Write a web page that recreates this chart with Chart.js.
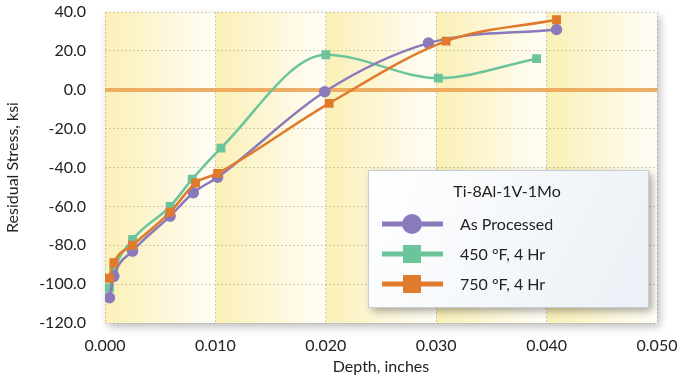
<!DOCTYPE html>
<html>
<head>
<meta charset="utf-8">
<script src="https://cdn.jsdelivr.net/npm/chart.js@4"></script>
<style>
  html, body { margin: 0; padding: 0; background: #fff; }
  #wrap { width: 694px; height: 383px; position: relative; }
</style>
</head>
<body>
<div id="wrap"><canvas id="stressChart"></canvas></div>
<script>
// Ti-8Al-1V-1Mo residual stress vs depth
const seriesLabels = ['As Processed', '450 °F, 4 Hr', '750 °F, 4 Hr'];
const legendTitle = 'Ti-8Al-1V-1Mo';

const asProcessedDepth = [0.0004, 0.0008, 0.0025, 0.0059, 0.0080, 0.0102, 0.0199, 0.0293, 0.0409];
const asProcessedStress = [-107, -96, -83, -65, -53, -45, -1, 24, 31];

const hr450Depth = [0.0004, 0.0008, 0.0025, 0.0059, 0.0079, 0.0105, 0.0200, 0.0302, 0.0391];
const hr450Stress = [-102, -93, -77, -60, -46, -30, 18, 6, 16];

const hr750Depth = [0.0004, 0.0008, 0.0025, 0.0059, 0.0082, 0.0102, 0.0203, 0.0309, 0.0409];
const hr750Stress = [-97, -89, -80, -63, -48, -43, -7, 25, 36];

const xTicks = [0, 0.01, 0.02, 0.03, 0.04, 0.05];
const yTicks = [-120, -100, -80, -60, -40, -20, 0, 20, 40];

const colors = ['#8a79bb', '#6cc49a', '#e07a2c'];
const markers = ['circle', 'rect', 'rect'];

function toPoints(xs, ys) {
    return xs.map(function(x, i) { return { x: x, y: ys[i] }; });
}

const FONT = 'Lato, "Noto Sans", sans-serif';

// column background bands + shadow
const bandPlugin = {
    id: 'bands',
    beforeDraw: function(chart) {
        const c = chart.ctx, a = chart.chartArea, xs = chart.scales.x;
        c.save();
        c.shadowColor = 'rgba(0,0,0,0.25)';
        c.shadowBlur = 8;
        c.shadowOffsetX = 3;
        c.shadowOffsetY = 4;
        c.fillStyle = '#fdf8dc';
        c.fillRect(a.left, a.top, a.right - a.left, a.bottom - a.top);
        c.restore();
        c.save();
        for (let i = 0; i < xTicks.length - 1; i++) {
            const x0 = xs.getPixelForValue(xTicks[i]);
            const x1 = xs.getPixelForValue(xTicks[i + 1]);
            const g = c.createLinearGradient(x0, 0, x1, 0);
            g.addColorStop(0, '#faf0b6');
            g.addColorStop(0.55, '#fdf7da');
            g.addColorStop(1, '#fffef7');
            c.fillStyle = g;
            c.fillRect(x0, a.top, x1 - x0, a.bottom - a.top);
        }
        c.restore();
    }
};

// legend box drawn inside the plot
const legendBoxPlugin = {
    id: 'legendBox',
    afterDraw: function(chart) {
        const c = chart.ctx;
        const bx = 368, by = 170, bw = 280, bh = 137;
        c.save();
        c.shadowColor = 'rgba(0,0,0,0.35)';
        c.shadowBlur = 8;
        c.shadowOffsetX = 4;
        c.shadowOffsetY = 4;
        const g = c.createLinearGradient(bx, by, bx + bw, by + bh);
        g.addColorStop(0, '#ffffff');
        g.addColorStop(1, '#eaf0f6');
        c.fillStyle = g;
        c.fillRect(bx, by, bw, bh);
        c.restore();
        c.save();
        c.strokeStyle = '#c9ced4';
        c.lineWidth = 1;
        c.strokeRect(bx + 0.5, by + 0.5, bw, bh);
        c.fillStyle = '#222';
        c.font = '16px ' + FONT;
        c.textBaseline = 'middle';
        c.textAlign = 'center';
        c.fillText(legendTitle, 507, 192);
        c.textAlign = 'left';
        chart.data.datasets.forEach(function(ds, i) {
            const y = 224 + i * 30;
            c.strokeStyle = ds.borderColor;
            c.lineWidth = 5;
            c.beginPath();
            c.moveTo(382, y);
            c.lineTo(443, y);
            c.stroke();
            c.fillStyle = ds.borderColor;
            if (markers[i] === 'circle') {
                c.beginPath();
                c.arc(412, y, 10, 0, Math.PI * 2);
                c.fill();
            } else {
                c.fillRect(403, y - 9, 18, 18);
            }
            c.fillStyle = '#222';
            c.fillText(ds.label, 460, y + 1);
        });
        c.restore();
    }
};

const datasets = [
    toPoints(asProcessedDepth, asProcessedStress),
    toPoints(hr450Depth, hr450Stress),
    toPoints(hr750Depth, hr750Stress)
].map(function(pts, i) {
    return {
        label: seriesLabels[i],
        data: pts,
        borderColor: colors[i],
        backgroundColor: colors[i],
        pointStyle: markers[i],
        pointRadius: markers[i] === 'circle' ? 4.5 : 4.5,
        borderWidth: 2.5,
        tension: 0.4,
        cubicInterpolationMode: 'monotone'
    };
});
// draw orange on top, as in the picture
datasets[0].order = 2;
datasets[1].order = 3;
datasets[2].order = 1;

function isZero(ctx) {
    return ctx.tick && ctx.tick.value === 0;
}

new Chart(document.getElementById('stressChart'), {
    type: 'line',
    data: { datasets: datasets },
    plugins: [bandPlugin, legendBoxPlugin],
    options: {
        responsive: true,
        maintainAspectRatio: false,
        animation: false,
        layout: { padding: { top: 12, right: 37, left: 0, bottom: 0 } },
        plugins: {
            legend: { display: false },
            tooltip: { enabled: false }
        },
        scales: {
            x: {
                type: 'linear',
                min: 0,
                max: 0.05,
                afterFit: function(s) {
                    s.height = 60;
                    s.paddingLeft = 0;
                    s.paddingRight = 0;
                },
                afterBuildTicks: function(s) { s.ticks = xTicks.map(function(v) { return { value: v }; }); },
                ticks: {
                    padding: 13,
                    color: '#222',
                    font: { family: FONT, size: 16 },
                    callback: function(v) { return v.toFixed(3); }
                },
                border: { display: false, dash: [2, 2] },
                grid: {
                    color: 'rgba(150,140,110,0.4)',
                    drawTicks: false,
                    lineWidth: 1
                },
                title: {
                    display: true,
                    text: 'Depth, inches',
                    color: '#222',
                    font: { family: FONT, size: 16 },
                    padding: { top: 0, bottom: 7 }
                }
            },
            y: {
                min: -120,
                max: 40,
                afterFit: function(s) {
                    s.width = 105;
                    s.paddingTop = 0;
                    s.paddingBottom = 0;
                },
                afterBuildTicks: function(s) { s.ticks = yTicks.map(function(v) { return { value: v }; }); },
                ticks: {
                    padding: 19,
                    color: '#222',
                    font: { family: FONT, size: 16 },
                    callback: function(v) { return v.toFixed(1); }
                },
                border: {
                    display: false,
                    dash: function(ctx) { return isZero(ctx) ? [] : [2, 2]; }
                },
                grid: {
                    drawTicks: false,
                    color: function(ctx) {
                        return isZero(ctx) ? 'rgba(234,160,80,0.85)' : 'rgba(150,140,110,0.4)';
                    },
                    lineWidth: function(ctx) {
                        return isZero(ctx) ? 4 : 1;
                    }
                },
                title: {
                    display: true,
                    text: 'Residual Stress, ksi',
                    color: '#222',
                    font: { family: FONT, size: 16 },
                    padding: { top: 3, bottom: 0 }
                }
            }
        }
    }
});
</script>
</body>
</html>
